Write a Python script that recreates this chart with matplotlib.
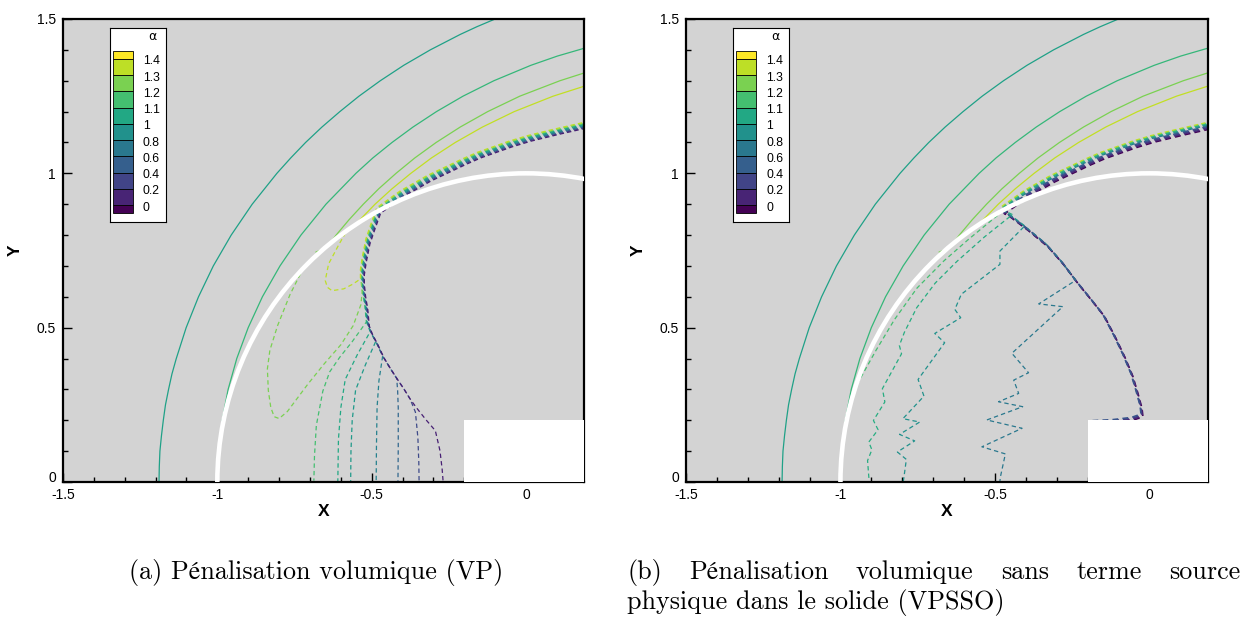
import matplotlib
matplotlib.use('Agg')
import matplotlib.pyplot as plt
from matplotlib import patches

# ---- solid alpha contours ahead of the body (same in both runs) ----
c1_x = [-1.189, -1.188, -1.186, -1.181, -1.175, -1.168, -1.158, -1.147, -1.133, -1.101, -1.061,
        -1.013, -0.955, -0.887, -0.807, -0.762, -0.714, -0.661, -0.603, -0.541, -0.472, -0.396,
        -0.310, -0.213, -0.159, -0.100]
c1_y = [0.0, 0.05, 0.1, 0.15, 0.2, 0.25, 0.3, 0.35, 0.4, 0.5, 0.6,
        0.7, 0.8, 0.9, 1.0, 1.05, 1.1, 1.15, 1.2, 1.25, 1.3, 1.35,
        1.4, 1.45, 1.475, 1.5]
c2_x = [-1.000, -0.996, -0.984, -0.965, -0.937, -0.900, -0.854, -0.797, -0.729, -0.648, -0.551,
        -0.496, -0.434, -0.366, -0.290, -0.204, -0.104, 0.016, 0.102, 0.188]
c2_y = [0.0, 0.1, 0.2, 0.3, 0.4, 0.5, 0.6, 0.7, 0.8, 0.9, 1.0,
        1.05, 1.1, 1.15, 1.2, 1.25, 1.3, 1.35, 1.38, 1.405]
c3_x = [-0.680, -0.645, -0.615, -0.573, -0.527, -0.477, -0.421, -0.360, -0.291, -0.213,
        -0.124, -0.020, 0.110, 0.188]
c3_y = [0.745, 0.76, 0.8, 0.85, 0.9, 0.95, 1.0, 1.05, 1.1, 1.15,
        1.2, 1.25, 1.3, 1.325]
c4_x = [-0.557, -0.489, -0.434, -0.373, -0.306, -0.229, -0.141, -0.038, 0.088, 0.188]
c4_y = [0.83, 0.9, 0.95, 1.0, 1.05, 1.1, 1.15, 1.2, 1.25, 1.282]

# ---- shock band: from right edge, down to the junction with the wall ----
top_band_x = [0.188, 0.10, 0.0097, -0.05, -0.152, -0.20, -0.314, -0.40, -0.477]
top_band_y = [1.155, 1.135, 1.113, 1.095, 1.059, 1.038, 0.984, 0.935, 0.880]

# (a) VP : band goes down inside the body
spine_a_x = [-0.495, -0.512, -0.524, -0.530, -0.530, -0.526, -0.519, -0.514, -0.503, -0.487,
             -0.466, -0.444, -0.422, -0.401, -0.380, -0.357, -0.330, -0.300]
spine_a_y = [0.83, 0.78, 0.72, 0.68, 0.649, 0.61, 0.568, 0.514, 0.485, 0.455,
             0.41, 0.374, 0.34, 0.309, 0.275, 0.244, 0.21, 0.175]
branches_a = [
    ([-0.514, -0.560, -0.600, -0.633, -0.655, -0.676, -0.682, -0.684],
     [0.514, 0.45, 0.40, 0.352, 0.29, 0.179, 0.08, 0.0]),
    ([-0.503, -0.545, -0.584, -0.598, -0.606, -0.608],
     [0.485, 0.41, 0.330, 0.24, 0.136, 0.0]),
    ([-0.487, -0.520, -0.552, -0.563, -0.567, -0.568],
     [0.455, 0.38, 0.298, 0.2, 0.1, 0.0]),
    ([-0.466, -0.478, -0.484, -0.486, -0.487],
     [0.41, 0.33, 0.244, 0.12, 0.0]),
    ([-0.422, -0.419, -0.417, -0.417, -0.418],
     [0.34, 0.30, 0.244, 0.12, 0.0]),
    ([-0.380, -0.363, -0.355, -0.352, -0.351],
     [0.275, 0.233, 0.15, 0.07, 0.0]),
    ([-0.300, -0.285, -0.278, -0.274],
     [0.175, 0.11, 0.05, 0.0]),
]
loop_green_x = [-0.714, -0.76, -0.80, -0.825, -0.833, -0.830, -0.822, -0.811, -0.795, -0.768,
                -0.703, -0.650, -0.595, -0.555, -0.530]
loop_green_y = [0.692, 0.60, 0.50, 0.42, 0.36, 0.29, 0.235, 0.205, 0.199, 0.222,
                0.309, 0.375, 0.438, 0.50, 0.568]
loop_yellow_x = [-0.568, -0.600, -0.633, -0.644, -0.637, -0.622, -0.584, -0.555, -0.530]
loop_yellow_y = [0.816, 0.76, 0.698, 0.644, 0.622, 0.611, 0.617, 0.632, 0.649]

# (b) VPSSO : band runs diagonally to the corner of the step
spine_b_x = [-0.466, -0.40, -0.336, -0.285, -0.239, -0.195, -0.153, -0.118, -0.088, -0.062,
             -0.045, -0.032, -0.029, -0.06, -0.12, -0.196]
spine_b_y = [0.876, 0.826, 0.773, 0.715, 0.654, 0.60, 0.547, 0.48, 0.417, 0.355,
             0.298, 0.25, 0.223, 0.212, 0.205, 0.201]
r1_x = [-0.245, -0.358, -0.280, -0.445, -0.391, -0.439, -0.423, -0.488, -0.410, -0.526,
        -0.412, -0.542, -0.466, -0.482, -0.484]
r1_y = [0.649, 0.577, 0.568, 0.417, 0.354, 0.330, 0.287, 0.260, 0.244, 0.201,
        0.174, 0.114, 0.091, 0.017, 0.0]
r2_x = [-0.407, -0.482, -0.482, -0.607, -0.628, -0.609, -0.693, -0.661, -0.747, -0.728,
        -0.796, -0.742, -0.807, -0.758, -0.814, -0.785, -0.793, -0.795]
r2_y = [0.822, 0.746, 0.703, 0.606, 0.557, 0.530, 0.479, 0.449, 0.330, 0.276,
        0.203, 0.192, 0.152, 0.131, 0.095, 0.071, 0.012, 0.0]
r3_x = [-0.44, -0.53, -0.62, -0.69, -0.75, -0.79, -0.806, -0.799, -0.861, -0.853,
        -0.890, -0.875, -0.905, -0.895, -0.909, -0.904]
r3_y = [0.862, 0.79, 0.71, 0.64, 0.56, 0.48, 0.438, 0.411, 0.298, 0.255,
        0.195, 0.165, 0.125, 0.10, 0.065, 0.0]
wall_green_x = [-0.477, -0.58, -0.66, -0.747, -0.82, -0.88, -0.942, -0.962]
wall_green_y = [0.865, 0.78, 0.71, 0.622, 0.52, 0.42, 0.309, 0.25]

legend_labels = ['0', '0.2', '0.4', '0.6', '0.8', '1', '1.1', '1.2', '1.3', '1.4']

# colours (dark -> light) for the band lines
band_colors = ['#471f73', '#3e4a89', '#31678e', '#26818e', '#1f9a8a', '#22a884', '#44bf70',
               '#7ad151', '#bddf26']
dark_colors = ['#440154', '#482677', '#453781', '#39558c']
dash = (0, (3.5, 2.5))
lw_line = 0.9
cmap = plt.get_cmap('viridis')


def follow(sx, sy, stop_y, bx, by):
    xs = [x for x, y in zip(sx, sy) if y > stop_y]
    ys = [y for y in sy if y > stop_y]
    return xs + list(bx), ys + list(by)


def band_line(ax, k, xs, ys, color, step=1.0, lw=lw_line):
    dx, dy = -0.0016 * (k - 4) * step, 0.0022 * (k - 4) * step
    ax.plot([x + dx for x in xs], [y + dy for y in ys], color=color, lw=lw,
            ls=dash, zorder=2)


def draw_common(ax, xmax):
    ax.set_facecolor('#d3d3d3')
    for cx, cy, col in [(c1_x, c1_y, '#1fa187'), (c2_x, c2_y, '#35b779'),
                        (c3_x, c3_y, '#7ad151'), (c4_x, c4_y, '#c2df23')]:
        ax.plot(cx, cy, color=col, lw=lw_line, zorder=2)
    ax.add_patch(patches.Circle((0, 0), 1.0, fill=False, ec='white', lw=3.3, zorder=3))
    ax.add_patch(patches.Rectangle((-0.2, 0), 0.6, 0.2, fc='white', ec='none', zorder=3))
    ax.set_xlim(-1.5, xmax)
    ax.set_ylim(0, 1.5)
    ax.set_xticks([-1.5, -1, -0.5, 0])
    ax.set_xticklabels(['-1.5', '-1', '-0.5', '0'])
    ax.set_yticks([0, 0.5, 1, 1.5])
    ax.set_yticklabels(['0', '0.5', '1', '1.5'])
    ax.set_xticks([-1.4, -1.3, -1.2, -1.1, -0.9, -0.8, -0.7, -0.6, -0.4, -0.3, -0.2, -0.1, 0.1],
                  minor=True)
    ax.set_yticks([0.1, 0.2, 0.3, 0.4, 0.6, 0.7, 0.8, 0.9, 1.1, 1.2, 1.3, 1.4], minor=True)
    ax.tick_params(which='both', direction='in', top=False, right=False, width=1.0,
                   labelsize=10)
    ax.tick_params(axis='x', pad=4.5)
    ax.tick_params(axis='y', pad=5)
    ax.tick_params(which='major', length=6.5)
    ax.tick_params(which='minor', length=3.6)
    for lab in ax.get_xticklabels() + ax.get_yticklabels():
        lab.set_fontfamily('Liberation Sans')
    # lift the bottom y label a little so it clears the first x label
    ax.get_yticklabels()[0].set_verticalalignment('baseline')
    for s in ax.spines.values():
        s.set_linewidth(1.6)
    ax.set_xlabel('X', fontsize=12.5, fontweight='bold', family='Liberation Sans', labelpad=1)
    ax.set_ylabel('Y', fontsize=12.5, fontweight='bold', family='Liberation Sans', labelpad=10)

    # colour legend
    lg = ax.inset_axes([47 / 521, 260 / 463, 56 / 521, 194 / 463])
    lg.set_zorder(6)
    lg.set_facecolor('white')
    lg.set_xlim(0, 56)
    lg.set_ylim(-1.035, 10.896)
    lg.set_xticks([])
    lg.set_yticks([])
    for s in lg.spines.values():
        s.set_linewidth(0.8)
    bottoms = [-0.5] + list(range(10))
    heights = [0.5] + [1] * 9 + [0.5]
    for i, (b, h) in enumerate(zip(bottoms, heights)):
        lg.bar(13, h, width=20, bottom=b, color=cmap(i / 10), edgecolor='black', lw=0.6)
    for i, t in enumerate(legend_labels):
        lg.text(33, i - 0.15, t, ha='left', va='center', fontsize=8.8, family='Liberation Sans')
    lg.text(42, 10.35, '\u03b1', ha='center', va='center', fontsize=9, family='DejaVu Sans')


fig = plt.figure(figsize=(12.42, 6.21), dpi=100)
ax_a = fig.add_axes([63 / 1242, 139 / 621, 521 / 1242, 463 / 621])
ax_b = fig.add_axes([686 / 1242, 139 / 621, 522 / 1242, 463 / 621])

draw_common(ax_a, 0.188)
draw_common(ax_b, 0.19)

# ---- panel (a) ----
full_a_x = top_band_x + spine_a_x
full_a_y = top_band_y + spine_a_y
for k, (bx, by) in enumerate(branches_a):
    xs, ys = follow(full_a_x, full_a_y, by[0], bx, by)
    band_line(ax_a, 6 - k, xs, ys, band_colors[6 - k])
xs, ys = follow(full_a_x, full_a_y, loop_green_y[-1], loop_green_x[::-1], loop_green_y[::-1])
band_line(ax_a, 7, xs, ys, band_colors[7])
xs, ys = follow(full_a_x, full_a_y, loop_yellow_y[-1], loop_yellow_x[::-1], loop_yellow_y[::-1])
band_line(ax_a, 8, xs, ys, band_colors[8])

# ---- panel (b) ----
full_b_x = top_band_x + spine_b_x
full_b_y = top_band_y + spine_b_y
for k in range(4):
    band_line(ax_b, k, full_b_x, full_b_y, dark_colors[k], step=1.3, lw=1.2)
xs, ys = follow(full_b_x, full_b_y, r1_y[0], r1_x, r1_y)
band_line(ax_b, 4, xs, ys, '#2a788e')
xs, ys = follow(full_b_x, full_b_y, r2_y[0], r2_x, r2_y)
band_line(ax_b, 5, xs, ys, '#21918c')
xs, ys = follow(top_band_x, top_band_y, r3_y[0], r3_x, r3_y)
band_line(ax_b, 6, xs, ys, '#27ad81')
xs, ys = follow(top_band_x, top_band_y, wall_green_y[0], wall_green_x, wall_green_y)
band_line(ax_b, 7, xs, ys, '#44bf70')
band_line(ax_b, 8, top_band_x, top_band_y, '#bddf26')

# ---- captions ----
cap_font = ['cmr10', 'STIXGeneral']
cap_size = 18.8
fig.text(316 / 1242, 1 - 572 / 621, '(a) Pénalisation volumique (VP)', ha='center',
         va='center', fontsize=cap_size, family=cap_font)

words = ['(b)', 'Pénalisation', 'volumique', 'sans', 'terme', 'source']
texts = [fig.text(0, 1 - 572 / 621, w, ha='left', va='center', fontsize=cap_size,
                  family=cap_font) for w in words]
fig.canvas.draw()
r = fig.canvas.get_renderer()
widths = [t.get_window_extent(r).width for t in texts]
x0, x1 = 627.0, 1240.0
gap = (x1 - x0 - sum(widths)) / (len(words) - 1)
pos = x0
for t, w in zip(texts, widths):
    t.set_x(pos / 1242)
    pos += w + gap
fig.text(627 / 1242, 1 - 603 / 621, 'physique dans le solide (VPSSO)', ha='left',
         va='center', fontsize=cap_size, family=cap_font)

fig.savefig('out.png', dpi=100)
